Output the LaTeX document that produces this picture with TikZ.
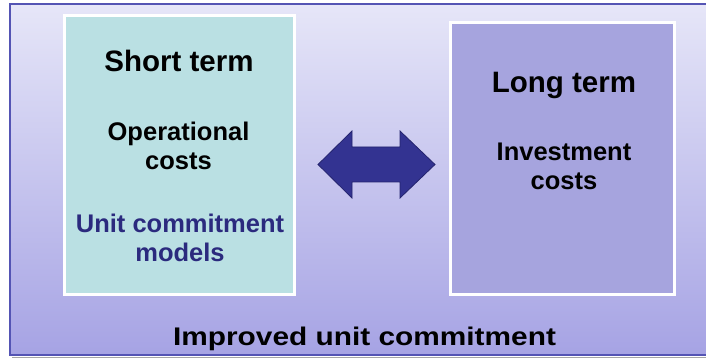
\documentclass[tikz,border=0pt]{standalone}
\usepackage{fontspec}
\setmainfont{Liberation Sans}
\usetikzlibrary{shadows}
\definecolor{frameline}{RGB}{84,84,180}
\definecolor{frametop}{RGB}{230,230,248}
\definecolor{framebot}{RGB}{166,163,228}
\definecolor{shortfill}{RGB}{186,224,227}
\definecolor{longfill}{RGB}{166,164,222}
\definecolor{arrowfill}{RGB}{51,51,145}
\definecolor{arrowline}{RGB}{36,36,110}
\definecolor{modeltext}{RGB}{43,42,126}
\tikzset{
  panel/.style={draw=white, line width=3pt,
    drop shadow={shadow xshift=1.5pt, shadow yshift=-1.5pt, opacity=0.35, fill=black!60}},
  title/.style={anchor=base, font=\bfseries\fontsize{29.5}{33}\selectfont},
  body/.style={anchor=base, align=center, font=\bfseries\fontsize{25.5}{29}\selectfont},
  caption/.style={anchor=base, font=\bfseries\fontsize{25.5}{29}\selectfont},
}
\begin{document}
\begin{tikzpicture}[x=1pt, y=-1pt]
  \useasboundingbox (0,0) rectangle (706,358);
  \fill[white] (0,0) rectangle (706,358);
  % outer frame with its shadow
  \fill[black!35] (12,357) rectangle (712,358);
  \shade[top color=frametop, bottom color=framebot] (10,4) rectangle (712,355);
  \draw[frameline, line width=1.3pt] (712,4) -- (10,4) -- (10,355) -- (712,355);
  % the two panels
  \path[panel, fill=shortfill] (64.5,15.5) rectangle (294.5,294.5);
  \path[panel, fill=longfill] (450.5,22.5) rectangle (674.5,294.5);
  % multi-line nodes sit on the baseline of their last line
  \node (st)  [title] at (179,72) {Short term};
  \node (opc) [body]  at (178.5,170) {Operational\\costs};
  \node (ucm) [body, text=modeltext] at (180,261) {Unit commitment\\models};
  \node (lt)  [title] at (564,93) {Long term};
  \node (inv) [body]  at (564,189.5) {Investment\\costs};
  \node (iuc) [caption] at (364.5,345.5) {\scalebox{1.17}[1]{Improved unit commitment}};
  % double-headed block arrow between the panels
  \draw[fill=arrowfill, draw=arrowline, line width=0.8pt, line join=miter]
    (318,164.5) -- (352,131) -- (352,147) -- (400,147) -- (400,131)
    -- (435,164.5) -- (400,198) -- (400,182) -- (352,182) -- (352,198) -- cycle;
\end{tikzpicture}
\end{document}
